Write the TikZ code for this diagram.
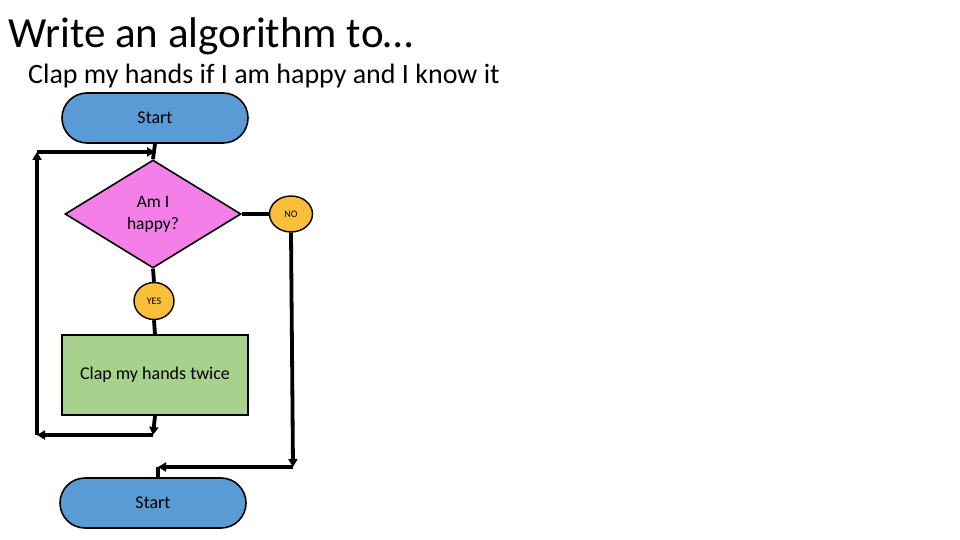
\documentclass[tikz,border=0pt]{standalone}
\usepackage{fontspec}
\setmainfont{Carlito}
\usetikzlibrary{shapes.geometric,arrows.meta}
\definecolor{termblue}{HTML}{5B9BD5}
\definecolor{decpink}{HTML}{F47FE8}
\definecolor{ansorange}{HTML}{F8BF3A}
\definecolor{procgreen}{HTML}{A9D18E}
\tikzset{
  terminal/.style={draw=black, line width=1.6pt, fill=termblue, rounded corners=25pt, minimum width=186pt, minimum height=50pt, inner sep=0pt, font=\fontsize{18}{20}\selectfont},
  decision/.style={draw=black, line width=1.6pt, fill=decpink, diamond, minimum width=176pt, minimum height=108pt, aspect=1.63, inner sep=0pt, align=center, font=\fontsize{17.5}{22}\selectfont},
  answer/.style={draw=black, line width=1.4pt, fill=ansorange, ellipse, inner sep=0pt, font=\fontsize{10}{11}\selectfont},
  process/.style={draw=black, line width=1.6pt, fill=procgreen, minimum width=186pt, minimum height=80pt, inner sep=0pt, font=\fontsize{18}{20}\selectfont},
  flow/.style={draw=black, line width=3.8pt},
  flowarrow/.style={flow, -{Triangle[length=8pt,width=9pt]}},
}
\begin{document}
\begin{tikzpicture}[x=1pt,y=-1pt]
\useasboundingbox (0,0) rectangle (960,540);
\fill[white] (0,0) rectangle (960,540);
\node[anchor=base west, font=\fontsize{43}{47}\selectfont, inner sep=0pt] (title) at (8,48) {Write an algorithm to…};
\node[anchor=base west, font=\fontsize{28}{32}\selectfont, inner sep=0pt] (sub) at (28,84) {Clap my hands if I am happy and I know it};

\node[terminal] (start) at (155,118) {Start};
\node[decision] (happy) at (153,214) {Am I\\happy?};
\node[answer, minimum width=43pt, minimum height=36pt] (no) at (291,214) {NO};
\node[answer, minimum width=40pt, minimum height=37pt] (yes) at (154,301) {YES};
\node[process] (clap) at (155,375) {Clap my hands twice};
\node[terminal] (stop) at (153,503) {Start};

\coordinate (c1) at (153,435);
\coordinate (c2) at (37,435);
\coordinate (c3) at (37,152);
\coordinate (c4) at (155,152);
\coordinate (n1) at (293,467);
\coordinate (n2) at (158,467);

\draw[flow] (start.south) -- (happy.north);
\draw[flow] (happy.south) -- (yes.north);
\draw[flow] (yes.south) -- (clap.north);
\draw[flow] (happy.east) -- (no.west);
\draw[flowarrow] (clap.south) -- (c1);
\draw[flowarrow] (c1) -- (c2);
\draw[flowarrow] (c2) -- (c3);
\draw[flowarrow] (c3) -- (c4);
\draw[flowarrow] (no.south) -- (n1);
\draw[flowarrow] (n1) -- (n2);
\draw[flow] (n2) -- (n2 |- stop.north);
\end{tikzpicture}
\end{document}
